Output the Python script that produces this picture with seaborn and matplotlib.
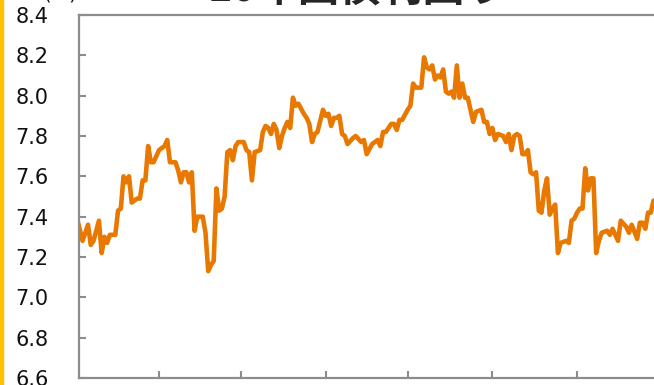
import matplotlib
matplotlib.use("Agg")
import matplotlib.pyplot as plt
import matplotlib.dates as mdates
from matplotlib.patches import Rectangle
import pandas as pd
import seaborn as sns

# 10-year government bond yield (%), daily closes
year = 2018
dates = [
    "03-02", "03-04", "03-06", "03-07", "03-08", "03-10", "03-11", "03-12", "03-13", "03-14",
    "03-16", "03-17", "03-18", "03-19", "03-20", "03-21", "03-22", "03-23", "03-24", "03-25",
    "03-26", "03-27", "03-28", "03-29", "03-30",
    "04-01", "04-02", "04-03", "04-04", "04-05", "04-06", "04-07", "04-08", "04-09", "04-10",
    "04-11", "04-12", "04-13", "04-14", "04-15", "04-17", "04-18", "04-19", "04-20", "04-21",
    "04-22", "04-23", "04-24", "04-25", "04-26", "04-27", "04-28", "04-29", "04-30",
    "05-02", "05-03", "05-04", "05-05", "05-06", "05-08", "05-09", "05-10", "05-11", "05-12",
    "05-13", "05-14", "05-15", "05-16", "05-17", "05-18", "05-19", "05-20", "05-21", "05-22",
    "05-24", "05-25", "05-26", "05-27", "05-28", "05-29", "05-31",
    "06-01", "06-02", "06-03", "06-04", "06-05", "06-06", "06-07", "06-08", "06-09", "06-11",
    "06-12", "06-14", "06-15", "06-16", "06-18", "06-20", "06-21", "06-22", "06-23", "06-25",
    "06-26", "06-27", "06-28", "06-29",
    "07-01", "07-02", "07-03", "07-04", "07-06", "07-07", "07-08", "07-09", "07-10", "07-11",
    "07-12", "07-13", "07-14", "07-15", "07-16", "07-17", "07-18", "07-19", "07-20", "07-21",
    "07-22", "07-23", "07-25", "07-26", "07-28", "07-29", "07-30", "07-31",
    "08-01", "08-02", "08-03", "08-05", "08-06", "08-07", "08-08", "08-09", "08-10", "08-11",
    "08-12", "08-13", "08-14", "08-15", "08-16", "08-17", "08-18", "08-19", "08-20", "08-21",
    "08-22", "08-23", "08-24", "08-25", "08-26", "08-28", "08-29", "08-30", "08-31",
    "09-01", "09-02", "09-03", "09-04", "09-05", "09-06", "09-07", "09-08", "09-09", "09-10",
    "09-12", "09-13", "09-14", "09-16", "09-17", "09-19", "09-20", "09-21", "09-23", "09-24",
    "09-25", "09-26", "09-27", "09-28", "09-29",
]
yields = [
    7.39, 7.28, 7.36, 7.26, 7.28, 7.38, 7.22, 7.30, 7.27, 7.31,
    7.31, 7.43, 7.44, 7.60, 7.57, 7.60, 7.47, 7.48, 7.49, 7.49,
    7.58, 7.58, 7.75, 7.67, 7.67,
    7.73, 7.74, 7.75, 7.78, 7.67, 7.67, 7.67, 7.63, 7.57, 7.62,
    7.62, 7.57, 7.62, 7.33, 7.40, 7.40, 7.32, 7.13, 7.16, 7.18,
    7.54, 7.43, 7.44, 7.50, 7.72, 7.73, 7.68, 7.75, 7.77,
    7.77, 7.73, 7.72, 7.58, 7.72, 7.73, 7.82, 7.85, 7.84, 7.81,
    7.86, 7.83, 7.74, 7.80, 7.84, 7.87, 7.84, 7.99, 7.95, 7.96,
    7.91, 7.89, 7.86, 7.77, 7.81, 7.82, 7.93,
    7.90, 7.91, 7.85, 7.89, 7.89, 7.90, 7.81, 7.80, 7.76, 7.79,
    7.80, 7.77, 7.78, 7.71, 7.76, 7.78, 7.75, 7.82, 7.82, 7.86,
    7.86, 7.83, 7.88, 7.88,
    7.93, 7.95, 8.06, 8.04, 8.04, 8.19, 8.14, 8.13, 8.15, 8.08,
    8.10, 8.09, 8.13, 8.02, 8.01, 8.02, 7.99, 8.15, 7.99, 8.06,
    7.99, 7.99, 7.87, 7.92, 7.93, 7.87, 7.87, 7.81,
    7.84, 7.78, 7.81, 7.80, 7.77, 7.81, 7.73, 7.80, 7.81, 7.80,
    7.71, 7.71, 7.73, 7.62, 7.61, 7.62, 7.43, 7.42, 7.53, 7.59,
    7.41, 7.44, 7.46, 7.22, 7.27, 7.28, 7.27, 7.38, 7.39,
    7.42, 7.44, 7.44, 7.64, 7.53, 7.59, 7.59, 7.22, 7.28, 7.32,
    7.33, 7.31, 7.34, 7.28, 7.38, 7.35, 7.32, 7.36, 7.29, 7.37,
    7.37, 7.34, 7.42, 7.42, 7.48,
]
y_ticks = [6.6, 6.8, 7.0, 7.2, 7.4, 7.6, 7.8, 8.0, 8.2, 8.4]
title = "10年国債利回り"
unit = "(%)"

df = pd.DataFrame({
    "date": pd.to_datetime([f"{year}-{d}" for d in dates]),
    "yield": yields,
})

sns.set_style("white")
plt.rcParams["font.family"] = ["DejaVu Sans", "Noto Sans CJK JP"]

W, H = 654, 385
fig = plt.figure(figsize=(W / 100, H / 100), dpi=100)
ax = fig.add_axes([79 / W, 7 / H, 640 / W, 363 / H])

sns.lineplot(data=df, x="date", y="yield", ax=ax, color="#E87800",
             linewidth=3.3, legend=False)

start = mdates.date2num(pd.Timestamp(f"{year}-03-01"))
ax.set_xlim(start + 1.7, start + 1.7 + 640 / 2.732)
ax.set_ylim(y_ticks[0], y_ticks[-1])
ax.set_yticks(y_ticks)
ax.set_yticklabels([f"{v:.1f}" for v in y_ticks])
ax.xaxis.set_major_locator(mdates.MonthLocator())
ax.set_xticklabels([])
ax.set_xlabel("")
ax.set_ylabel("")

spine_color = "#8C8C8C"
for side in ["left", "bottom", "top"]:
    ax.spines[side].set_color(spine_color)
    ax.spines[side].set_linewidth(1.6)
ax.spines["right"].set_visible(False)
ax.tick_params(axis="both", direction="in", length=5, width=1.5,
               color=spine_color)
ax.tick_params(axis="y", left=True, right=False, labelsize=15, pad=22,
               labelcolor="#111111")
ax.tick_params(axis="x", bottom=True, top=False)

fig.text(0.546, 0.972, title, ha="center", va="bottom", fontsize=30,
         fontweight="bold", family=["Noto Sans CJK JP", "DejaVu Sans"])
fig.text(0.092, 0.992, unit, ha="center", va="bottom", fontsize=14,
         color="#111111")

fig.add_artist(Rectangle((0, 0), 3 / W, 1, transform=fig.transFigure,
                         color="#FFC000", zorder=5))

fig.savefig("out.png", dpi=100)
